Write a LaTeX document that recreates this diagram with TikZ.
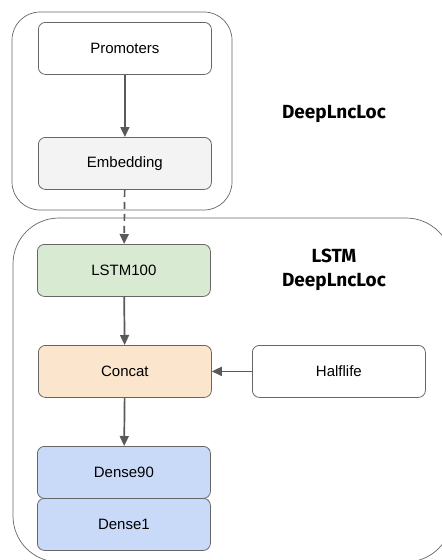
\documentclass[tikz,border=0pt]{standalone}
\usepackage{fontspec}
\setmainfont{Liberation Sans}
\newfontfamily\labelfont{Fira Sans}
\usetikzlibrary{arrows.meta}
\definecolor{linegray}{HTML}{595959}
\definecolor{boxgray}{HTML}{666666}
\definecolor{embfill}{HTML}{F3F3F3}
\definecolor{lstmfill}{HTML}{D9EAD3}
\definecolor{catfill}{HTML}{FCE5CD}
\definecolor{densefill}{HTML}{C9DAF8}
\begin{document}
\begin{tikzpicture}[x=1pt,y=-1pt,
  layer/.style={draw=boxgray, line width=0.8pt, rounded corners=7pt, minimum width=173pt, minimum height=52pt, inner sep=0pt, font=\fontsize{15}{17}\selectfont, anchor=north west},
  group/.style={draw=boxgray, line width=0.7pt},
  conn/.style={draw=linegray, line width=1.7pt, -{Triangle[length=10pt,width=9pt]}},
  grouplabel/.style={font=\labelfont\bfseries\fontsize{19}{24}\selectfont, align=center}]
\useasboundingbox (0,0) rectangle (442,560);
\clip (0,0) rectangle (442,560);
\draw[group, rounded corners=28pt] (12,12) rectangle (232,210);
\draw[group, rounded corners=46pt] (13,218) rectangle (452,562);
\node[layer] (prom) at (38,22) {Promoters};
\node[layer, fill=embfill] (emb) at (38,137) {Embedding};
\node[layer, fill=lstmfill] (lstm) at (37,244) {LSTM100};
\node[layer, fill=catfill] (cat) at (38,345) {Concat};
\node[layer] (half) at (252,345) {Halflife};
\node[layer, fill=densefill] (d90) at (37,446) {Dense90};
\node[layer, fill=densefill] (d1) at (37,498) {Dense1};
\node[grouplabel] (lab1) at (334,114) {DeepLncLoc};
\node[grouplabel] (lab2) at (334,270) {LSTM\\DeepLncLoc};
\draw[conn] (prom) -- (emb);
\draw[conn, dash pattern=on 7pt off 5pt] (emb) -- (lstm);
\draw[conn] (lstm) -- (cat);
\draw[conn] (half) -- (cat);
\draw[conn] (cat) -- (d90);
\end{tikzpicture}
\end{document}
